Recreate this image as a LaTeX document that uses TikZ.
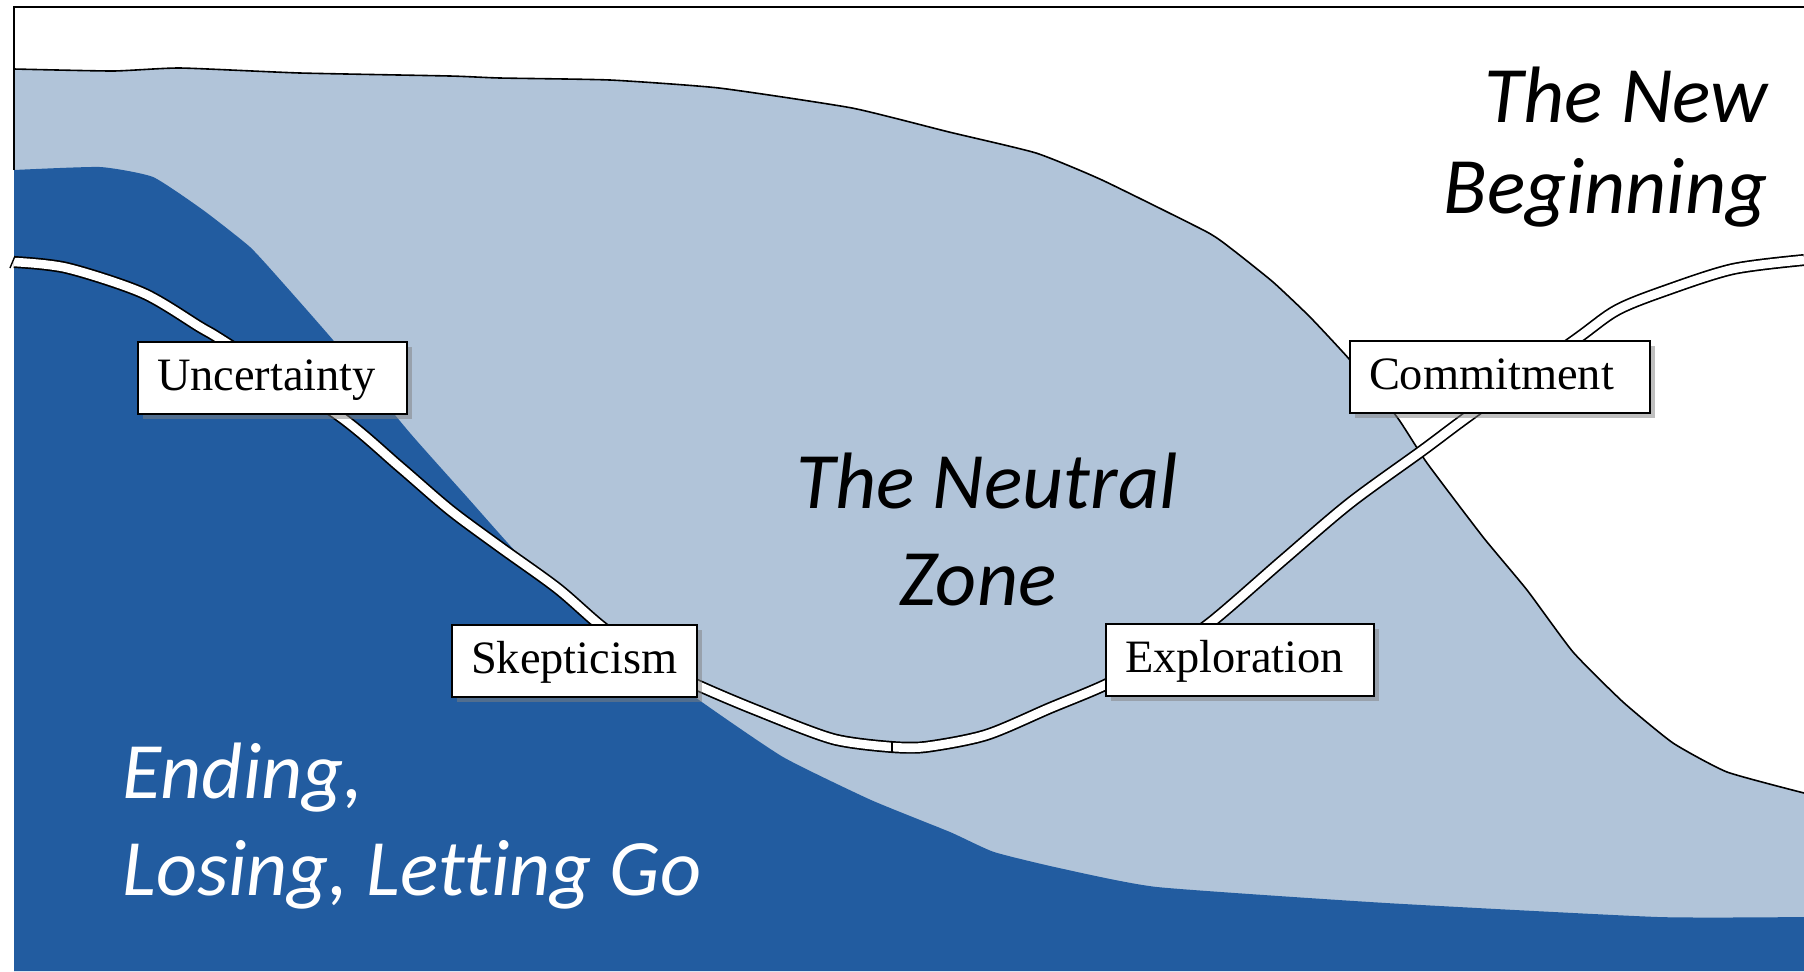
\documentclass[tikz,border=0pt]{standalone}
\usepackage{fontspec}
\newfontfamily\calib[Ligatures=NoCommon]{Carlito}
\newfontfamily\labelserif{Liberation Serif}
\usetikzlibrary{shadows}
\definecolor{darkblu}{RGB}{34,92,160}
\definecolor{lightblu}{RGB}{177,196,217}
\begin{document}
\begin{tikzpicture}[x=0.5pt,y=-0.5pt,
  track/.style={draw=black,line width=0.85pt,double=white,double distance=4.3pt},
  edge/.style={draw=black,line width=0.8pt},
  frame/.style={draw=black,line width=1pt},
  stagebox/.style={draw=black,line width=1.1pt,fill=white,inner xsep=9.5pt,inner ysep=0pt,
    minimum height=36pt,text height=16.5pt,text depth=4pt,align=left,
    font=\labelserif\fontsize{23.2}{26}\selectfont,
    drop shadow={shadow xshift=2.5pt,shadow yshift=-2.5pt,opacity=0.5}},
  big/.style={inner sep=0pt,font=\calib\itshape\fontsize{40}{48}\selectfont}
]
\useasboundingbox (0,0) rectangle (1804,971);
\fill[white] (0,0) rectangle (1804,971);
% light blue region (neutral zone)
\fill[lightblu] plot[smooth,tension=0.3] coordinates {
  (14,69) (113,71) (180,68) (300,73) (450,76) (500,78) (610,80) (719,88) (852,108)
  (949,132) (1036,153) (1102,180) (1207,232) (1233,250) (1273,282) (1310,317)
  (1350,360) (1397,417) (1427,463) (1483,537) (1527,590) (1573,652) (1623,702)
  (1673,743) (1727,772) (1804,793)}
  -- (1804,971) -- (14,971) -- cycle;
% dark blue region (ending)
\fill[darkblu] plot[smooth,tension=0.3] coordinates {
  (14,170) (100,167) (153,177) (203,210) (250,247) (283,283) (333,340) (410,433)
  (467,497) (517,553) (560,592) (620,640) (699,700) (783,757) (871,800) (950,832)
  (994,852) (1059,868) (1157,887) (1386,903) (1658,917) (1804,917)}
  -- (1804,971) -- (14,971) -- cycle;
% boundary of the neutral zone
\draw[edge] plot[smooth,tension=0.3] coordinates {
  (14,69) (113,71) (180,68) (300,73) (450,76) (500,78) (610,80) (719,88) (852,108)
  (949,132) (1036,153) (1102,180) (1207,232) (1233,250) (1273,282) (1310,317)
  (1350,360) (1397,417) (1427,463) (1483,537) (1527,590) (1573,652) (1623,702)
  (1673,743) (1727,772) (1804,793)};
% frame
\draw[frame] (14,170) -- (14,7) -- (1804,7);
% the track
\draw[track] plot[smooth,tension=0.5] coordinates {
  (14,262) (67,268) (143,293) (200,327) (225,342) (338,415) (400,467) (450,510)
  (500,547) (557,588) (601,626) (650,662) (697,685) (756,710) (833,739) (892,747)};
\draw[track] plot[smooth,tension=0.5] coordinates {
  (892,747) (925,747) (986,735) (1050,708) (1105,685) (1160,656) (1210,623)
  (1283,560) (1350,503) (1423,450) (1470,415) (1575,340) (1617,310) (1667,290)
  (1733,269) (1804,260)};
\draw[line width=0.8pt] (892,741) -- (892,753);
\draw[line width=0.7pt] (10,268) -- (15,256);
% stage labels
\node[stagebox,text width=115.5pt] (unc) at (272.5,378) {Uncertainty};
\node[stagebox,text width=103.5pt] (skep) at (574.5,661) {Skepticism};
\node[stagebox,text width=115pt] (expl) at (1240,660) {Exploration};
\node[stagebox,text width=131pt] (comm) at (1500,377) {Commitment};
% zone titles
\node[big,anchor=base] (nz1) at (987,508) {The Neutral};
\node[big,anchor=base] (nz2) at (978,605) {Zone};
\node[big,anchor=base east] (nb1) at (1768,122) {The New};
\node[big,anchor=base east] (nb2) at (1768,213) {Beginning};
\node[big,anchor=base west,text=white] (el1) at (122,798) {Ending,};
\node[big,anchor=base west,text=white] (el2) at (122,895) {Losing, Letting Go};
\end{tikzpicture}
\end{document}
